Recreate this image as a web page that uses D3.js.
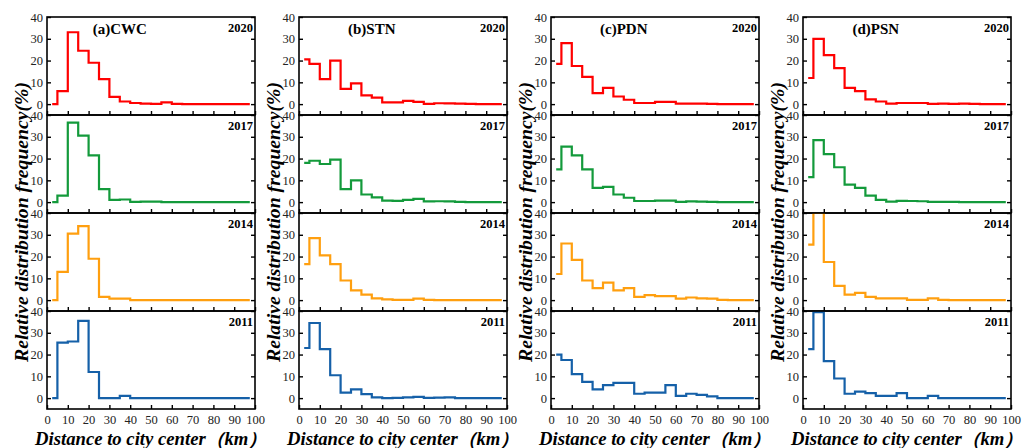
<!DOCTYPE html>
<html>
<head>
<meta charset="utf-8">
<script src="https://cdn.jsdelivr.net/npm/d3@7/dist/d3.min.js"></script>
<style>
  html, body { margin: 0; padding: 0; background: #fff; }
  svg { display: block; }
</style>
</head>
<body>
<svg id="chart" width="1023" height="448"></svg>
<script>
// ---- Data ----
const distanceCenters = [2.5, 7.5, 12.5, 17.5, 22.5, 27.5, 32.5, 37.5, 42.5, 47.5,
                         52.5, 57.5, 62.5, 67.5, 72.5, 77.5, 82.5, 87.5, 92.5, 97.5];
const xTicks = [0, 10, 20, 30, 40, 50, 60, 70, 80, 90, 100];
const yTicks = [0, 10, 20, 30, 40];
const years = ["2020", "2017", "2014", "2011"];
const cityLabels = ["(a)CWC", "(b)STN", "(c)PDN", "(d)PSN"];

const cwc2020 = [0, 6, 33, 24.5, 19, 11.5, 3.3, 1.2, 0.5, 0.2, 0.1, 0.8, 0.1, 0, 0, 0, 0, 0, 0, 0];
const cwc2017 = [0, 3, 36.5, 30.5, 21.5, 6, 1, 1.2, 0.1, 0.2, 0.2, 0, 0, 0, 0, 0, 0, 0, 0, 0];
const cwc2014 = [0, 13, 30.5, 34, 19, 1.5, 0.7, 0.7, 0, 0, 0, 0, 0, 0, 0, 0, 0, 0, 0, 0];
const cwc2011 = [0, 25.5, 26, 35.5, 12, 0, 0, 1, 0, 0, 0, 0, 0, 0, 0, 0, 0, 0, 0, 0];

const stn2020 = [20.5, 18.5, 11.5, 20, 7, 9.5, 4, 3, 0.8, 0.8, 1.5, 1, 0.1, 0.4, 0.3, 0.2, 0.1, 0, 0, 0];
const stn2017 = [18, 19, 17.5, 19.5, 6, 10, 3.5, 2.2, 0.7, 0.6, 1, 1.5, 0.3, 0.4, 0.3, 0.1, 0, 0, 0, 0];
const stn2014 = [16.5, 28.5, 20.5, 16.5, 9, 4.5, 2.5, 0.8, 0.3, 0.1, 0.1, 0.7, 0.1, 0, 0, 0, 0, 0, 0, 0];
const stn2011 = [23, 34.5, 22.5, 10.5, 2.5, 4, 1.8, 0.3, 0, 0.1, 0.3, 0.6, 0.1, 0.2, 0.3, 0, 0, 0, 0, 0];

const pdn2020 = [18.5, 28, 17.5, 12.5, 5, 7.5, 3.5, 2, 0.5, 0.5, 1, 1, 0.2, 0.2, 0.2, 0.1, 0, 0, 0, 0];
const pdn2017 = [15, 25.5, 21.5, 15, 6.5, 7, 3.5, 2, 0.5, 0.5, 0.7, 0.7, 0.1, 0.3, 0.2, 0.1, 0, 0, 0, 0];
const pdn2014 = [12, 26, 18.5, 9, 5.5, 8, 4.5, 5.5, 1.5, 2.3, 1.8, 1.8, 0.7, 1.2, 0.8, 0.7, 0.1, 0, 0, 0];
const pdn2011 = [20, 17.5, 11, 7.5, 4, 6, 7, 7, 2, 2.5, 2.5, 6, 1, 2, 1.5, 0.8, 0, 0, 0, 0];

const psn2020 = [12, 30, 22.5, 16.5, 7.5, 6, 2.2, 1.2, 0.2, 0.5, 0.5, 0.5, 0.1, 0.2, 0.1, 0.2, 0.1, 0, 0, 0];
const psn2017 = [11.5, 28.5, 22, 16, 8, 6.5, 3, 1, 0.2, 0.6, 0.5, 0.4, 0.1, 0.1, 0.1, 0, 0, 0, 0, 0];
const psn2014 = [25.5, 40, 17.5, 6.5, 2.5, 3.3, 1.5, 0.8, 0.8, 0.8, 0.1, 0.1, 0.8, 0.1, 0, 0, 0, 0, 0, 0];
const psn2011 = [22.5, 39.5, 17, 9, 2, 3, 2.3, 1, 1, 2.3, 0, 0, 1, 0, 0, 0, 0, 0, 0, 0];

const yearColors = ["#ff0000", "#139a3b", "#ff9f0f", "#1560a8"];

const columns = [
  { label: cityLabels[0], series: [cwc2020, cwc2017, cwc2014, cwc2011] },
  { label: cityLabels[1], series: [stn2020, stn2017, stn2014, stn2011] },
  { label: cityLabels[2], series: [pdn2020, pdn2017, pdn2014, pdn2011] },
  { label: cityLabels[3], series: [psn2020, psn2017, psn2014, psn2011] }
];

// ---- Layout ----
const svg = d3.select("#chart");
const firstLeft = 47, colStep = 252, plotW = 208;
const top0 = 17, rowH = 98;
const serif = "'Liberation Serif', 'Times New Roman', serif";

const x = d3.scaleLinear().domain([0, 100]).range([0, plotW]);
const y = d3.scaleLinear().domain([-5, 40]).range([rowH, 0]);

const line = d3.line()
  .x((d, i) => x(distanceCenters[i]))
  .y(d => y(d))
  .curve(d3.curveStep);

const defs = svg.append("defs");
defs.append("clipPath").attr("id", "panelClip")
  .append("rect").attr("x", 0).attr("y", 0).attr("width", plotW).attr("height", rowH);

columns.forEach((col, ci) => {
  const left = firstLeft + ci * colStep;
  const g = svg.append("g").attr("transform", `translate(${left},0)`);

  col.series.forEach((vals, ri) => {
    const pg = g.append("g").attr("transform", `translate(0,${top0 + ri * rowH})`);

    // data
    pg.append("path")
      .attr("clip-path", "url(#panelClip)")
      .attr("d", line(vals))
      .attr("fill", "none")
      .attr("stroke", yearColors[ri])
      .attr("stroke-width", 2.2)
      .attr("stroke-linejoin", "miter");

    // bottom axis (ticks inward)
    const bottom = pg.append("g").attr("transform", `translate(0,${rowH})`)
      .call(d3.axisBottom(x).tickValues(xTicks).tickSizeInner(-4).tickSizeOuter(0).tickPadding(6)
        .tickFormat(ri === 3 ? d3.format("d") : () => ""));
    bottom.select(".domain").remove();

    // left axis
    const leftAx = pg.append("g")
      .call(d3.axisLeft(y).tickValues(yTicks).tickSizeInner(-4).tickSizeOuter(0).tickPadding(4));
    leftAx.select(".domain").remove();

    // right axis
    const rightAx = pg.append("g").attr("transform", `translate(${plotW},0)`)
      .call(d3.axisRight(y).tickValues(yTicks).tickSizeInner(-4).tickSizeOuter(0).tickFormat(() => ""));
    rightAx.select(".domain").remove();

    [bottom, leftAx, rightAx].forEach(a => {
      a.selectAll(".tick line").attr("stroke", "#000").attr("stroke-width", 1.4);
      a.selectAll(".tick text").attr("fill", "#222")
        .style("font-family", serif).style("font-size", "12.5px");
    });

    // frame
    pg.append("rect")
      .attr("x", 0).attr("y", 0).attr("width", plotW).attr("height", rowH)
      .attr("fill", "none").attr("stroke", "#000").attr("stroke-width", 1.6);

    // year label
    pg.append("text")
      .attr("x", plotW - 2).attr("y", 15)
      .attr("text-anchor", "end")
      .style("font-family", serif).style("font-weight", "bold").style("font-size", "12.5px")
      .attr("fill", "#000")
      .text(years[ri]);

    if (ri === 0) {
      pg.append("text")
        .attr("x", plotW * 0.35).attr("y", 17)
        .attr("text-anchor", "middle")
        .style("font-family", serif).style("font-weight", "bold").style("font-size", "15px")
        .attr("fill", "#000")
        .text(col.label);
    }
  });

  // y axis title
  g.append("text")
    .attr("transform", `translate(${-19},${222}) rotate(-90)`)
    .attr("text-anchor", "middle")
    .style("font-family", serif).style("font-weight", "bold").style("font-style", "italic")
    .style("font-size", "19px")
    .attr("textLength", 280).attr("lengthAdjust", "spacingAndGlyphs")
    .attr("fill", "#000")
    .text("Relative distribution frequency(%)");

  // x axis title
  g.append("text")
    .attr("x", plotW / 2).attr("y", 445)
    .attr("text-anchor", "middle")
    .style("font-family", serif).style("font-weight", "bold").style("font-style", "italic")
    .style("font-size", "18px")
    .attr("textLength", 232).attr("lengthAdjust", "spacingAndGlyphs")
    .attr("fill", "#000")
    .text("Distance to city center（km）");
});
</script>
</body>
</html>
